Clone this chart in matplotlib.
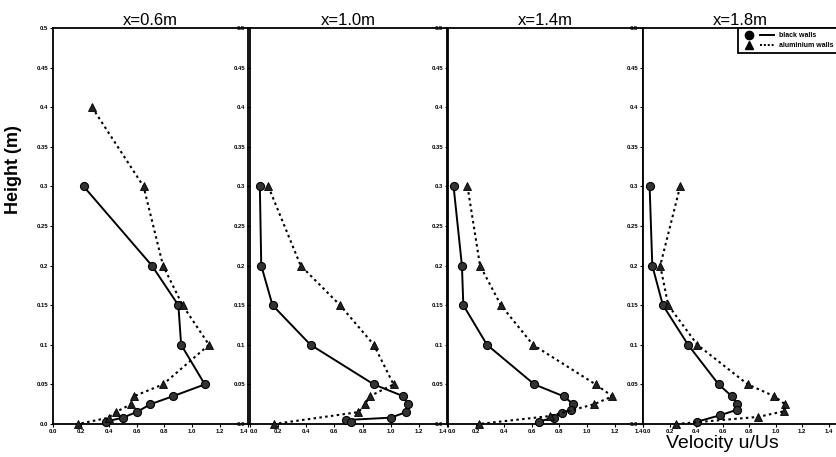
"""
Velocity profiles u/Us against height at four downstream stations,
black walls vs aluminium walls.
"""
import matplotlib
matplotlib.use("Agg")
import matplotlib.pyplot as plt
from matplotlib.lines import Line2D
from matplotlib.legend_handler import HandlerTuple

plt.rcParams["font.family"] = ["Liberation Sans", "DejaVu Sans"]

stations = ["x=0.6m", "x=1.0m", "x=1.4m", "x=1.8m"]

# --- black walls (circles, solid) ---
black_h = [
    [0.3, 0.2, 0.15, 0.1, 0.05, 0.035, 0.025, 0.015, 0.008, 0.003],
    [0.3, 0.2, 0.15, 0.1, 0.05, 0.035, 0.025, 0.015, 0.008, 0.005, 0.002],
    [0.3, 0.2, 0.15, 0.1, 0.05, 0.035, 0.025, 0.018, 0.014, 0.008, 0.003],
    [0.3, 0.2, 0.15, 0.1, 0.05, 0.035, 0.025, 0.018, 0.011, 0.003],
]
black_u = [
    [0.22, 0.71, 0.90, 0.92, 1.09, 0.86, 0.70, 0.60, 0.50, 0.38],
    [0.07, 0.08, 0.16, 0.43, 0.88, 1.09, 1.12, 1.11, 1.00, 0.68, 0.72],
    [0.04, 0.10, 0.11, 0.28, 0.62, 0.83, 0.90, 0.88, 0.82, 0.76, 0.65],
    [0.05, 0.07, 0.15, 0.34, 0.57, 0.67, 0.71, 0.71, 0.58, 0.41],
]

# --- aluminium walls (triangles, dotted) ---
alu_h = [
    [0.4, 0.3, 0.2, 0.15, 0.1, 0.05, 0.035, 0.025, 0.015, 0.008, 0.0],
    [0.3, 0.2, 0.15, 0.1, 0.05, 0.035, 0.025, 0.015, 0.0],
    [0.3, 0.2, 0.15, 0.1, 0.05, 0.035, 0.025, 0.010, 0.0],
    [0.3, 0.2, 0.15, 0.1, 0.05, 0.035, 0.025, 0.016, 0.009, 0.0],
]
alu_u = [
    [0.28, 0.65, 0.79, 0.93, 1.12, 0.79, 0.58, 0.56, 0.45, 0.40, 0.18],
    [0.13, 0.36, 0.64, 0.88, 1.02, 0.85, 0.82, 0.77, 0.17],
    [0.14, 0.23, 0.38, 0.61, 1.06, 1.18, 1.05, 0.73, 0.22],
    [0.28, 0.13, 0.19, 0.41, 0.79, 0.99, 1.07, 1.06, 0.87, 0.25],
]

x_ticks = [0.0, 0.2, 0.4, 0.6, 0.8, 1.0, 1.2, 1.4]
x_labels = ["0.0", "0.2", "0.4", "0.6", "0.8", "1.0", "1.2", "1.4"]
y_ticks = [0.0, 0.05, 0.1, 0.15, 0.2, 0.25, 0.3, 0.35, 0.4, 0.45, 0.5]
y_labels = ["0.0", "0.05", "0.1", "0.15", "0.2", "0.25", "0.3", "0.35", "0.4", "0.45", "0.5"]

W, H = 837, 457
fig = plt.figure(figsize=(W / 100, H / 100), dpi=100)

lefts = [53, 250, 448, 643]
widths = [195, 197, 195, 195]
xmax = [1.4, 1.4, 1.4, 1.47]
bottom, top = 424, 28
dotted = (0, (1.2, 1.6))

for i in range(4):
    ax = fig.add_axes([lefts[i] / W, (H - bottom) / H, widths[i] / W, (bottom - top) / H])
    ax.plot(black_u[i], black_h[i], color="black", lw=1.4, ls="-",
            marker="o", ms=5.8, mfc="#333333", mec="black", mew=0.8, clip_on=False, zorder=3)
    ax.plot(alu_u[i], alu_h[i], color="black", lw=1.5, ls=dotted,
            marker="^", ms=5.8, mfc="#222222", mec="black", mew=0.6, clip_on=False, zorder=3)
    ax.set_xlim(0, xmax[i])
    ax.set_ylim(0, 0.5)
    ax.set_xticks(x_ticks)
    ax.set_xticklabels(x_labels)
    ax.set_yticks(y_ticks)
    ax.set_yticklabels(y_labels)
    ax.tick_params(direction="out", length=2, width=0.8, pad=1.5, labelsize=4.3)
    for lab in ax.get_xticklabels() + ax.get_yticklabels():
        lab.set_fontweight("bold")
    # neighbouring panels share an edge: keep "1.4" and "0.0" from overlapping
    xl = ax.get_xticklabels()
    if i < 3:
        xl[-1].set_ha("right")
    if i > 0:
        xl[0].set_ha("left")
    for s in ax.spines.values():
        s.set_linewidth(1.3)
    ax.spines["right"].set_visible(i < 3)
    ax.set_title(stations[i], fontsize=12, pad=2)

    if i == 3:
        h1 = (Line2D([], [], ls="none", marker="o", ms=6, mfc="black", mec="black"),
              Line2D([], [], color="black", lw=1.4))
        h2 = (Line2D([], [], ls="none", marker="^", ms=6, mfc="black", mec="black"),
              Line2D([], [], color="black", lw=1.4, ls=(0, (1, 1))))
        leg = ax.legend([h1, h2], ["black walls", "aluminium walls"],
                        handler_map={tuple: HandlerTuple(ndivide=None, pad=0.6)},
                        loc="upper right", bbox_to_anchor=(1.0, 1.0),
                        prop={"size": 5, "weight": "bold"}, fancybox=False,
                        framealpha=1, edgecolor="black", borderpad=0.6,
                        handlelength=4.6, handletextpad=0.8, labelspacing=0.4,
                        borderaxespad=0)
        leg.get_frame().set_linewidth(1.3)

fig.text(14 / W, 1 - 170 / H, "Height (m)", rotation=90, fontsize=13,
         fontweight="bold", ha="center", va="center")
fig.text(722 / W, 1 - 443 / H, "Velocity u/Us", fontsize=14,
         ha="center", va="center")

fig.savefig("out.png", dpi=100)
